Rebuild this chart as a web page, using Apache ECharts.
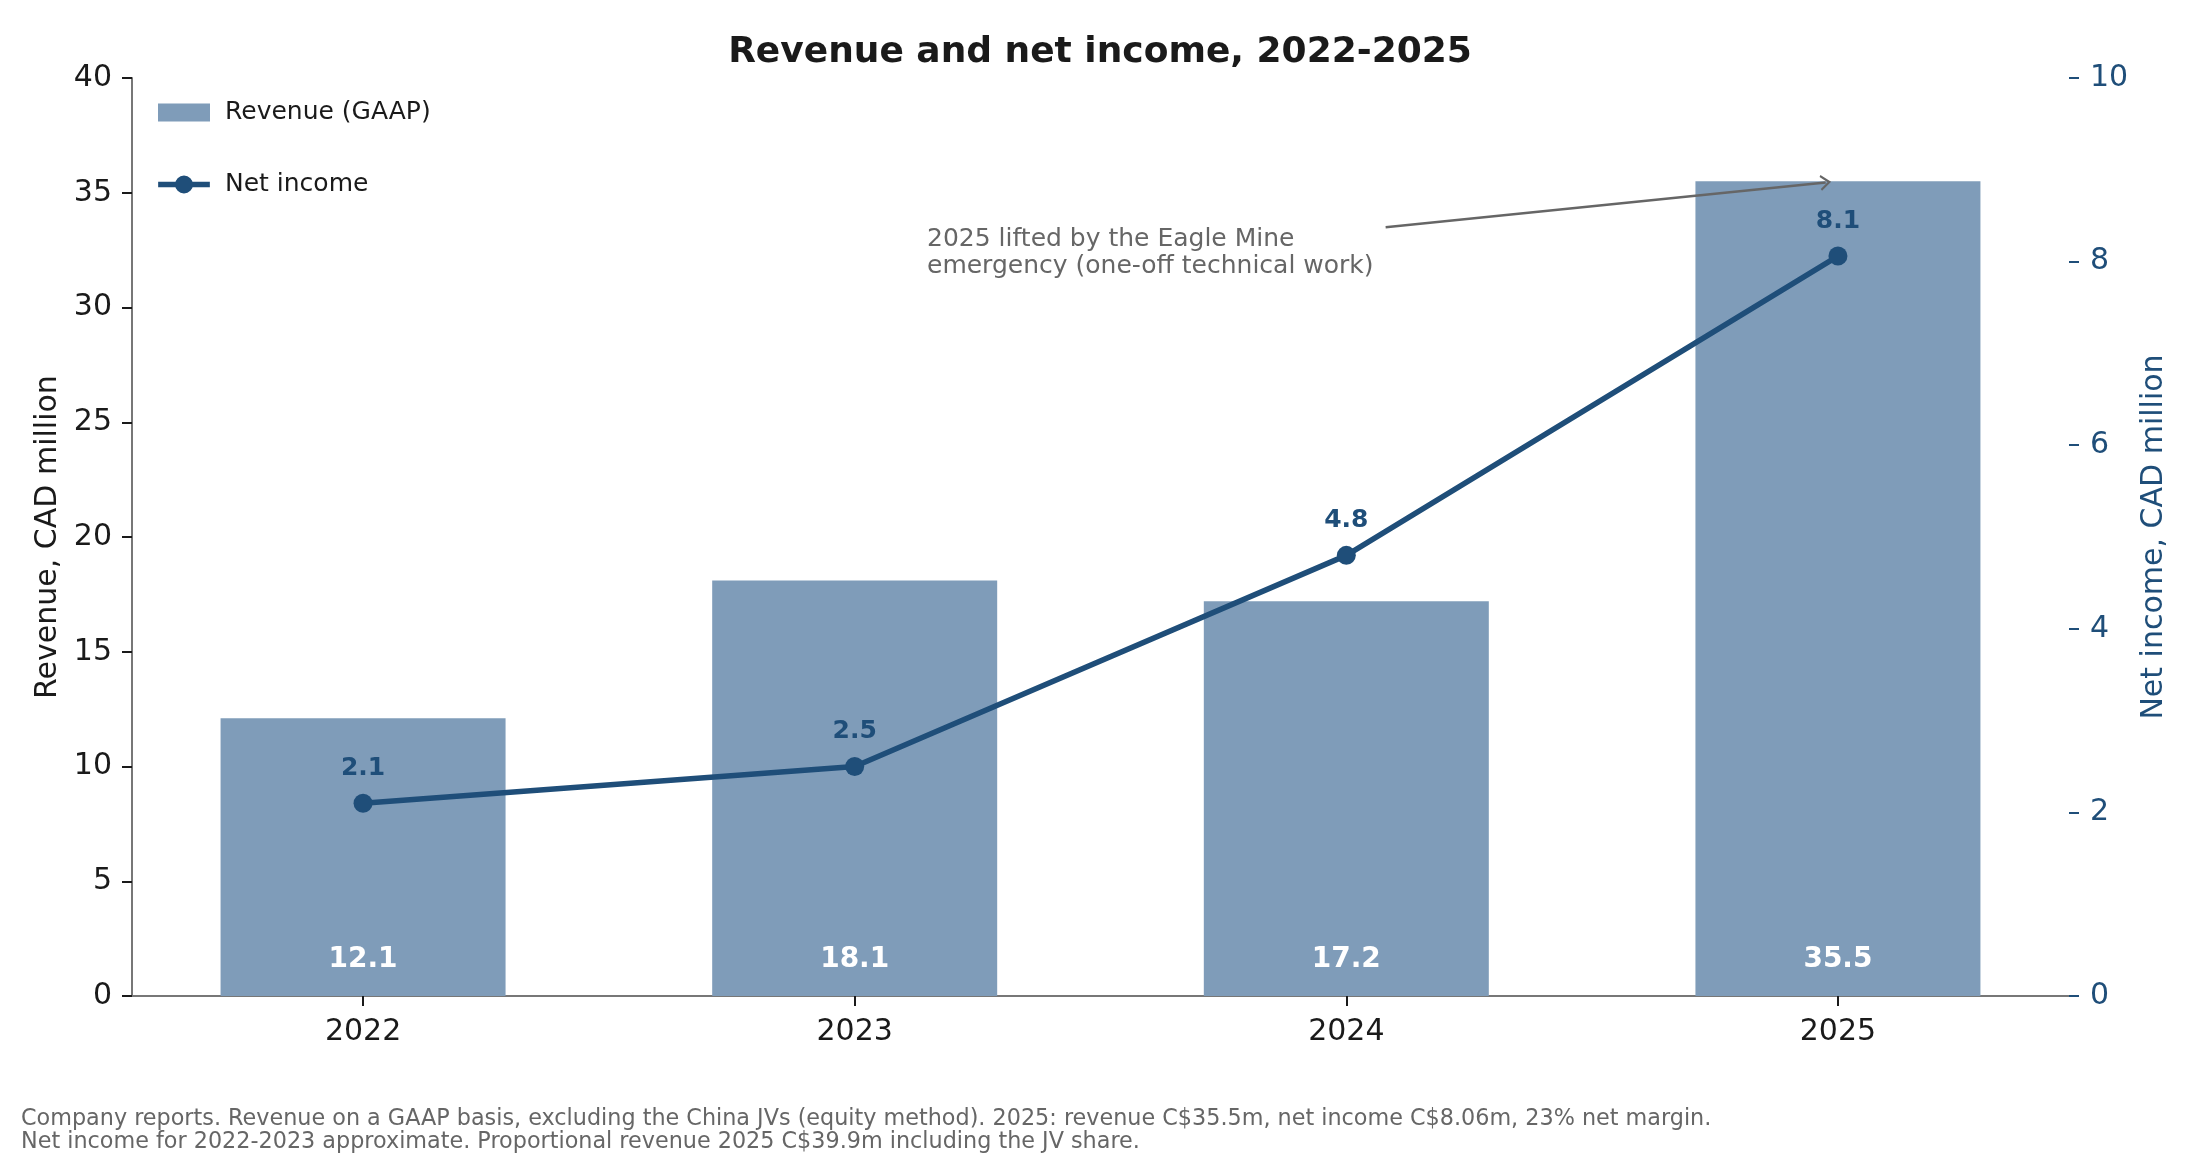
<!DOCTYPE html>
<html>
<head>
<meta charset="utf-8">
<script src="https://cdn.jsdelivr.net/npm/echarts@6/dist/echarts.min.js"></script>
<style>
  html, body { margin: 0; padding: 0; background: #fff; }
  #chart { width: 2200px; height: 1160px; }
</style>
</head>
<body>
<div id="chart"></div>
<script>
const years = ['2022', '2023', '2024', '2025']
const revenue = [12.1, 18.1, 17.2, 35.5]
const netIncome = [2.1, 2.5, 4.8, 8.06]
const leftTicks = [0, 40, 5]   // min, max, step
const rightTicks = [0, 10, 2]

const FONT = 'DejaVu Sans'
const BAR = '#7f9cb9'
const LINE = '#1f4e79'
const INK = '#1a1a1a'
const GREY = '#666666'
const positions = years.map((y, i) => i)

// open arrow head, drawn pointing up
const chevron = 'path://M0,14 L10,0 L20,14 L17.5,15.5 L10,5 L2.5,15.5 Z'
// legend icon for the line: thick stroke with a dot in the middle
const lineIcon = 'path://M0,6 H54 V12 H0 Z M17.6,9 A9.4,9.4 0 1 1 36.4,9 A9.4,9.4 0 1 1 17.6,9 Z'

const chart = echarts.init(document.getElementById('chart'))
chart.setOption({
  animation: false,
  textStyle: { fontFamily: FONT },
  title: {
    text: 'Revenue and net income, 2022-2025',
    left: 'center',
    top: 30,
    textStyle: { fontFamily: FONT, fontSize: 36, fontWeight: 'bold', color: INK }
  },
  legend: {
    orient: 'vertical',
    left: 153,
    top: 95,
    itemWidth: 52,
    itemHeight: 18,
    itemGap: 47,
    textStyle: { fontFamily: FONT, fontSize: 25, color: INK, padding: [0, 0, 0, 10] },
    data: [
      { name: 'Revenue (GAAP)', icon: 'rect' },
      { name: 'Net income', icon: lineIcon }
    ]
  },
  grid: { left: 132, right: 131, top: 78, bottom: 164 },
  xAxis: {
    type: 'value',
    min: -0.47,
    max: 3.47,
    splitLine: { show: false },
    axisLine: { show: true, onZero: false, lineStyle: { color: '#777', width: 2 } },
    axisTick: { show: true, length: 10, customValues: positions, lineStyle: { color: INK, width: 2 } },
    axisLabel: {
      customValues: positions,
      formatter: v => years[Math.round(v)],
      margin: 21,
      fontFamily: FONT,
      fontSize: 30,
      color: INK
    }
  },
  yAxis: [
    {
      type: 'value',
      min: leftTicks[0],
      max: leftTicks[1],
      interval: leftTicks[2],
      name: 'Revenue, CAD million',
      nameLocation: 'middle',
      nameGap: 69,
      nameTextStyle: { fontFamily: FONT, fontSize: 30, color: INK },
      splitLine: { show: false },
      axisLine: { show: true, onZero: false, lineStyle: { color: '#777', width: 2 } },
      axisTick: { show: true, length: 10, lineStyle: { color: INK, width: 2 } },
      axisLabel: { margin: 20, fontFamily: FONT, fontSize: 30, color: INK }
    },
    {
      type: 'value',
      min: rightTicks[0],
      max: rightTicks[1],
      interval: rightTicks[2],
      position: 'right',
      name: 'Net income, CAD million',
      nameLocation: 'middle',
      nameGap: 63,
      nameTextStyle: { fontFamily: FONT, fontSize: 30, color: LINE },
      splitLine: { show: false },
      axisLine: { show: false, onZero: false },
      axisTick: { show: true, length: 10, lineStyle: { color: LINE, width: 2 } },
      axisLabel: { margin: 21, fontFamily: FONT, fontSize: 30, color: LINE }
    }
  ],
  series: [
    {
      name: 'Revenue (GAAP)',
      type: 'bar',
      yAxisIndex: 0,
      barWidth: 285,
      itemStyle: { color: BAR },
      data: years.map((y, i) => [i, revenue[i]]),
      label: {
        show: true,
        position: 'insideBottom',
        distance: 22,
        fontFamily: FONT,
        fontSize: 28,
        fontWeight: 'bold',
        color: '#fff',
        formatter: p => p.value[1].toFixed(1)
      },
      markLine: {
        silent: true,
        symbol: ['none', chevron],
        symbolSize: [16, 11],
        lineStyle: { color: GREY, width: 2.5, type: 'solid' },
        label: { show: false },
        data: [[{ coord: [2.08, 33.5] }, { coord: [2.975, 35.45] }]]
      }
    },
    {
      name: 'Net income',
      type: 'line',
      yAxisIndex: 1,
      z: 5,
      symbol: 'circle',
      symbolSize: 19,
      lineStyle: { color: LINE, width: 5.5 },
      itemStyle: { color: LINE },
      data: years.map((y, i) => [i, netIncome[i]]),
      label: {
        show: true,
        position: 'top',
        distance: 13,
        fontFamily: FONT,
        fontSize: 25,
        fontWeight: 'bold',
        color: LINE,
        formatter: p => p.value[1].toFixed(1)
      }
    }
  ],
  graphic: [
    {
      type: 'text',
      left: 927,
      top: 226,
      style: {
        text: '2025 lifted by the Eagle Mine\nemergency (one-off technical work)',
        font: '25px "DejaVu Sans"',
        lineHeight: 27,
        fill: GREY
      }
    },
    {
      type: 'text',
      left: 21,
      top: 1108,
      style: {
        text: 'Company reports. Revenue on a GAAP basis, excluding the China JVs (equity method). 2025: revenue C$35.5m, net income C$8.06m, 23% net margin.\nNet income for 2022-2023 approximate. Proportional revenue 2025 C$39.9m including the JV share.',
        font: '22.3px "DejaVu Sans"',
        lineHeight: 23,
        fill: GREY
      }
    }
  ]
})
</script>
</body>
</html>
